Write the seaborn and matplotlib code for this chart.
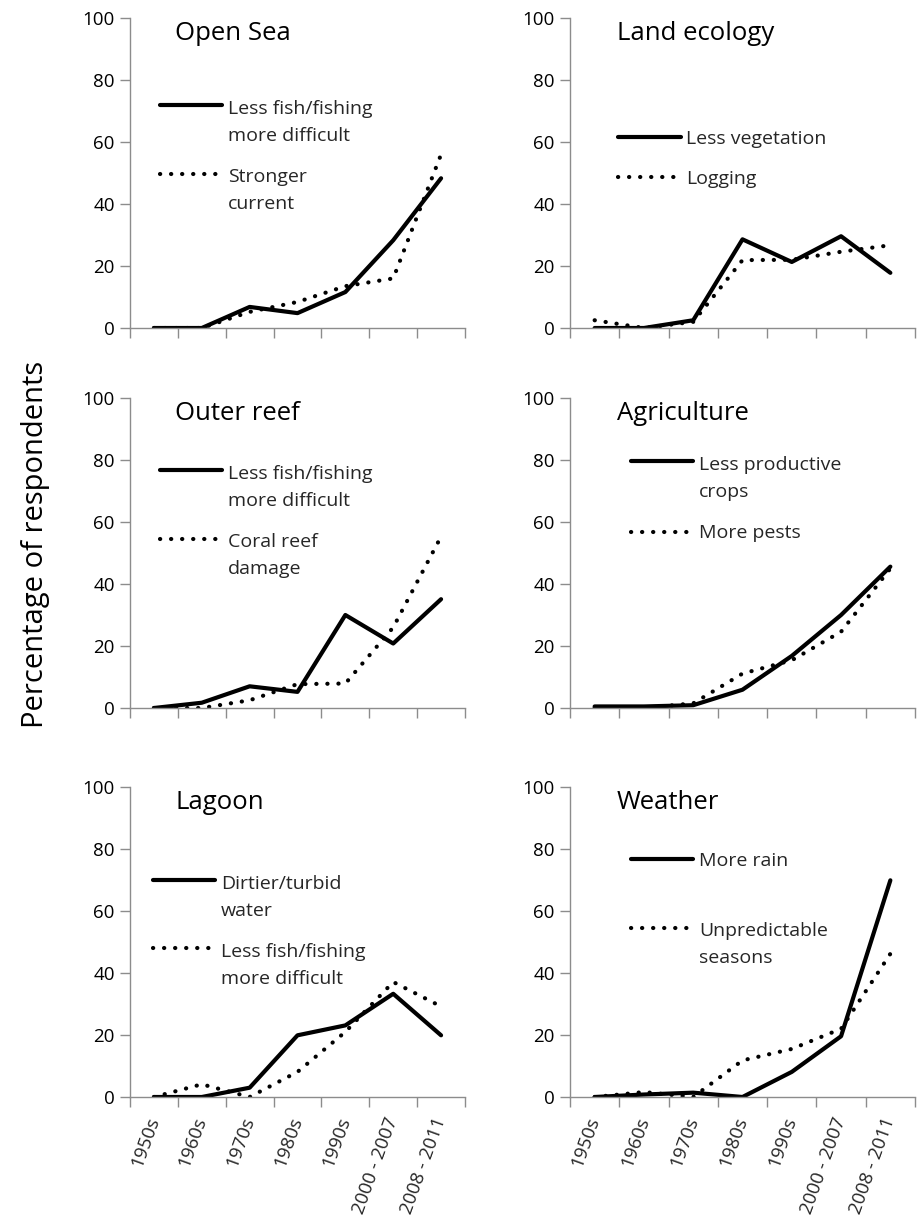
import numpy as np
import pandas as pd
import matplotlib
matplotlib.use("Agg")
import matplotlib.pyplot as plt
import seaborn as sns
from matplotlib.legend_handler import HandlerLine2D

# DATA
periods = ["1950s", "1960s", "1970s", "1980s", "1990s", "2000 - 2007", "2008 - 2011"]

open_sea_fish = [0, 0, 6.8, 4.8, 11.6, 28.3, 48.3]
open_sea_current = [0, 0, 5.2, 8.4, 13.5, 16, 56]
land_vegetation = [0, 0, 2.5, 28.6, 21.3, 29.6, 17.8]
land_logging = [2.5, 0, 2, 21.9, 22, 24.6, 26.7]
reef_fish = [0, 1.7, 7, 5.2, 30, 20.8, 35.1]
reef_coral = [0, 0, 2.5, 7.7, 7.9, 26, 55.3]
agri_crops = [0.5, 0.5, 0.9, 5.9, 16.8, 30, 45.6]
agri_pests = [0, 0, 1.5, 11.1, 15.4, 24.6, 45]
lagoon_water = [0, 0, 3, 19.9, 23.1, 33.3, 19.9]
lagoon_fish = [0, 4.1, 0, 8.1, 21, 37.1, 29.2]
weather_rain = [0, 0.8, 1.4, 0, 8.1, 19.6, 69.9]
weather_seasons = [0, 1.6, 0, 11.8, 15.5, 22, 46.2]

titles = ["Open Sea", "Land ecology", "Outer reef", "Agriculture", "Lagoon", "Weather"]
solid_labels = ["Less fish/fishing\nmore difficult", "Less vegetation",
                "Less fish/fishing\nmore difficult", "Less productive\ncrops",
                "Dirtier/turbid\nwater", "More rain"]
dotted_labels = ["Stronger\ncurrent", "Logging", "Coral reef\ndamage", "More pests",
                 "Less fish/fishing\nmore difficult", "Unpredictable\nseasons"]
solid_series = [open_sea_fish, land_vegetation, reef_fish, agri_crops, lagoon_water, weather_rain]
dotted_series = [open_sea_current, land_logging, reef_coral, agri_pests, lagoon_fish, weather_seasons]

# legend placement per panel (axes coords)
legend_anchor = [(0.09, 0.736), (0.14, 0.639), (0.09, 0.784), (0.176, 0.813), (0.069, 0.717), (0.176, 0.791)]
legend_spacing = [1.2, 1.15, 1.2, 1.2, 1.2, 2.7]

sns.set_theme(style="ticks")
plt.rcParams["font.family"] = ["Open Sans", "DejaVu Sans"]

GRAY = "#8c8c8c"


class TopLineHandler(HandlerLine2D):
    # puts the legend line level with the first row of a two-row label
    def __init__(self, shift=0.0, **kw):
        super().__init__(**kw)
        self.shift = shift

    def create_artists(self, legend, orig_handle, xdescent, ydescent, width, height, fontsize, trans):
        artists = super().create_artists(legend, orig_handle, xdescent, ydescent,
                                         width, height, fontsize, trans)
        for a in artists:
            a.set_ydata(np.asarray(a.get_ydata(), dtype=float) + self.shift * fontsize)
        return artists


fig = plt.figure(figsize=(9.23, 12.28), dpi=100)
lefts = [130 / 923, 570 / 923]
bottoms = [1 - 328 / 1228, 1 - 708 / 1228, 1 - 1097 / 1228]
widths = [335 / 923, 345 / 923]
height = 310 / 1228

for i in range(6):
    row, col = divmod(i, 2)
    ax = fig.add_axes([lefts[col], bottoms[row], widths[col], height])

    df_solid = pd.DataFrame({"period": periods, "value": solid_series[i]})
    df_dot = pd.DataFrame({"period": periods, "value": dotted_series[i]})
    sns.lineplot(data=df_solid, x="period", y="value", ax=ax, color="black",
                 linewidth=3.0, label=solid_labels[i], sort=False)
    sns.lineplot(data=df_dot, x="period", y="value", ax=ax, color="black",
                 linewidth=3.0, linestyle=(0, (0.05, 2.6)), dash_capstyle="round",
                 label=dotted_labels[i], sort=False)

    ax.set_ylim(0, 100)
    ax.set_yticks(range(0, 101, 20))
    ax.set_xlim(-0.5, 6.5)
    ax.set_xticks(range(len(periods)))
    ax.set_xticks(np.arange(-0.5, 7, 1.0), minor=True)
    ax.set_xlabel("")
    ax.set_ylabel("")
    sns.despine(ax=ax)
    for sp in ["left", "bottom"]:
        ax.spines[sp].set_color(GRAY)
        ax.spines[sp].set_linewidth(1.0)
    ax.tick_params(axis="y", length=7, width=1.0, color=GRAY, labelsize=13.5,
                   labelcolor="black", pad=4)
    ax.tick_params(axis="x", which="major", length=0, labelsize=13.5, pad=15)
    ax.tick_params(axis="x", which="minor", length=7, width=1.0, color=GRAY)
    if row < 2:
        ax.tick_params(axis="x", labelbottom=False)
    else:
        ax.set_xticklabels(periods)
        for lab in ax.get_xticklabels():
            lab.set_rotation(70)
            lab.set_ha("right")
            lab.set_va("center")
            lab.set_rotation_mode("anchor")

    ax.text(0.135, 0.95, titles[i], transform=ax.transAxes, fontsize=18.5,
            ha="left", va="center", color="black")

    handles, labels = ax.get_legend_handles_labels()
    hmap = {h: TopLineHandler(shift=(0.9 if "\n" in lab else 0.0))
            for h, lab in zip(handles, labels)}
    leg = ax.legend(handles, labels, loc="upper left", bbox_to_anchor=legend_anchor[i],
                    frameon=False, fontsize=14, handlelength=3.2, handletextpad=0.3,
                    borderpad=0, borderaxespad=0, labelspacing=legend_spacing[i],
                    handler_map=hmap)
    for t in leg.get_texts():
        t.set_linespacing(1.65)

fig.text(0.038, 0.557, "Percentage of respondents", rotation=90, fontsize=21,
         ha="center", va="center", color="black")

fig.savefig("out.png", dpi=100)
